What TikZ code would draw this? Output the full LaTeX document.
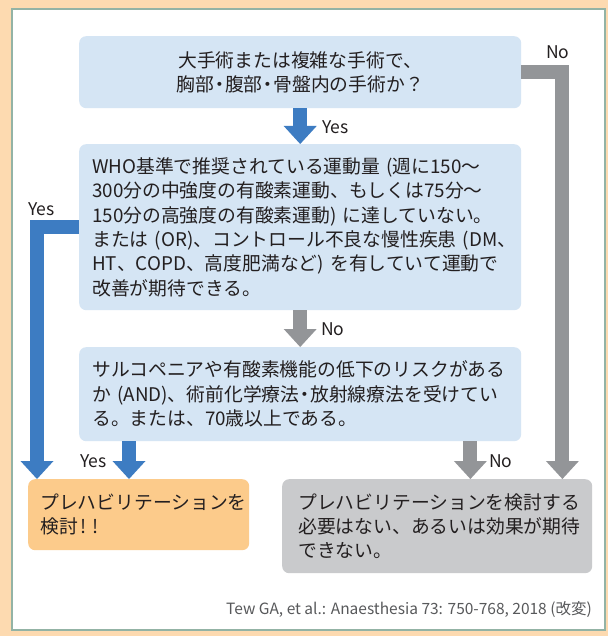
\documentclass[tikz,border=0pt]{standalone}
\usepackage{fontspec}
\setmainfont{Noto Sans CJK JP}
\usetikzlibrary{arrows.meta}
\definecolor{peach}{HTML}{FDDAB0}
\definecolor{panelline}{HTML}{93B3A5}
\definecolor{qblue}{HTML}{D5E5F4}
\definecolor{ablue}{HTML}{3D7CC2}
\definecolor{agray}{HTML}{939598}
\definecolor{orangebox}{HTML}{FCCB8B}
\definecolor{graybox}{HTML}{C9CACC}
\definecolor{ink}{HTML}{231F20}
\definecolor{citeink}{HTML}{58595B}
\newcommand{\tdot}{\kern-4pt・\kern-4pt}
\begin{document}
\begin{tikzpicture}[x=1pt,y=-1pt,
  boxbase/.style={anchor=north west, rounded corners=7pt, inner ysep=0pt,
    text=ink, font=\fontsize{18.8}{24.4}\selectfont},
  qbox/.style={boxbase, fill=qblue},
  okbox/.style={boxbase, fill=orangebox},
  ngbox/.style={boxbase, fill=graybox},
  bigarrow/.style={line width=14pt, line join=miter,
    -{Triangle[width=33pt,length=18pt,line width=0pt]}},
  yesarrow/.style={bigarrow, draw=ablue},
  noarrow/.style={bigarrow, draw=agray},
  lbl/.style={text=ink, font=\fontsize{17.5}{20}\selectfont, inner sep=0pt},
]
\useasboundingbox (0,0) rectangle (608,636);
\fill[peach] (0,0) rectangle (608,636);
\draw[panelline, fill=white, line width=1.5pt] (12,9) rectangle (605,630);

\node[qbox, minimum width=442pt, minimum height=72pt, align=center] (b1) at (79,36)
  {大手術または複雑な手術で、\\胸部\tdot 腹部\tdot 骨盤内の手術か？};
\node[qbox, minimum width=442pt, minimum height=166pt, inner xsep=13pt,
  text width=416pt, align=left] (b2) at (79,144)
  {WHO基準で推奨されている運動量~(週に150～\\
300分の中強度の有酸素運動、もしくは75分～\\
150分の高強度の有酸素運動)~に達していない。\\
または~(OR)、コントロール不良な慢性疾患~(DM、\\
HT、COPD、高度肥満など)~を有していて運動で\\
改善が期待できる。};
\node[qbox, minimum width=442pt, minimum height=94pt, inner xsep=13pt,
  text width=416pt, align=left] (b3) at (79,347)
  {サルコペニアや有酸素機能の低下のリスクがある\\
か~(AND)、術前化学療法\tdot 放射線療法を受けてい\\
る。または、70歳以上である。};
\node[okbox, minimum width=221pt, minimum height=71pt, inner xsep=12pt,
  text width=197pt, align=left] (b4) at (28,479)
  {プレハビリテーションを\\検討\hspace{3pt}!\hspace{6pt}!};
\node[ngbox, minimum width=310pt, minimum height=94pt, inner xsep=16pt,
  text width=278pt, align=left] (b5) at (282,479)
  {プレハビリテーションを検討する\\必要はない、あるいは効果が期待\\できない。};

\draw[yesarrow] (b1.south) -- (b2.north);
\draw[noarrow] (b2.south) -- (b3.north);
\draw[noarrow] (b1.east) -| ([xshift=-30pt]b5.north east);
\draw[yesarrow] (b2.west) -| ([xshift=9pt]b4.north west);
\draw[yesarrow] ([xshift=50pt]b3.south west) -- ([xshift=50pt]b3.south west |- b4.north);
\draw[noarrow] ([xshift=-51pt]b3.south east) -- ([xshift=-51pt]b3.south east |- b5.north);

\node[lbl, anchor=west] (l1) at (322,127) {Yes};
\node[lbl, anchor=west] (l2) at (546,52) {No};
\node[lbl, anchor=west] (l3) at (28,209) {Yes};
\node[lbl, anchor=west] (l4) at (321,329) {No};
\node[lbl, anchor=west] (l5) at (80,461) {Yes};
\node[lbl, anchor=west] (l6) at (489,461) {No};

\node[text=citeink, anchor=east, inner sep=0pt, font=\fontsize{15.5}{18}\selectfont] (cite) at (592,610)
  {Tew GA, et al.: Anaesthesia 73: 750-768, 2018 (改変)};
\end{tikzpicture}
\end{document}
